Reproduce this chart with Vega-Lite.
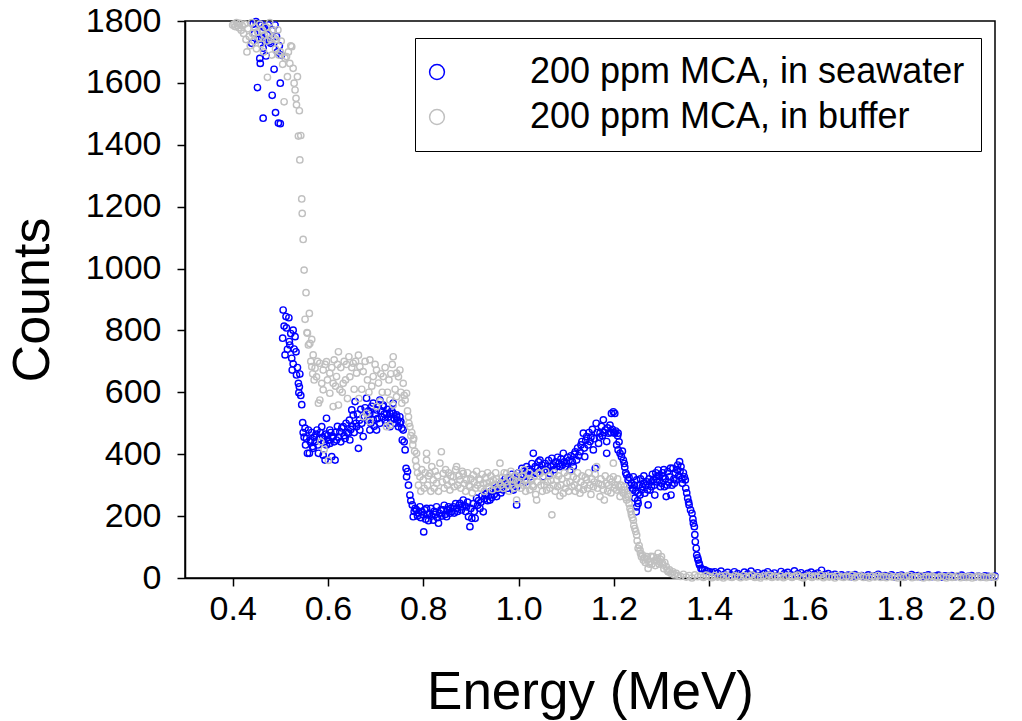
{
"$schema":"https://vega.github.io/schema/vega-lite/v6.json",
"width":810,"height":557,
"autosize":"none",
"padding":{"left":185,"top":21,"right":27,"bottom":143},
"background":"white",
"config":{"view":{"stroke":"black","strokeWidth":1.5},"font":"Liberation Sans"},
"datasets":{
"sea":[
{"e":0.440,"c":1728},{"e":0.443,"c":1790},{"e":0.446,"c":1760},{"e":0.449,"c":1798},{"e":0.452,"c":1585},{"e":0.454,"c":1740},{"e":0.457,"c":1787},{"e":0.457,"c":1679},{"e":0.458,"c":1663},{"e":0.460,"c":1790},{"e":0.461,"c":1744},{"e":0.463,"c":1765},{"e":0.464,"c":1712},{"e":0.464,"c":1486},{"e":0.466,"c":1780},{"e":0.468,"c":1735},{"e":0.470,"c":1687},{"e":0.473,"c":1755},{"e":0.475,"c":1787},{"e":0.477,"c":1733},{"e":0.480,"c":1728},{"e":0.483,"c":1560},{"e":0.485,"c":1770},{"e":0.487,"c":1644},{"e":0.489,"c":1787},{"e":0.490,"c":1504},{"e":0.492,"c":1750},{"e":0.494,"c":1700},{"e":0.496,"c":1470},{"e":0.498,"c":1720},{"e":0.500,"c":1468},{"e":0.500,"c":1599},{"e":0.502,"c":1690},
{"e":0.505,"c":775},{"e":0.506,"c":866},{"e":0.508,"c":814},{"e":0.510,"c":721},{"e":0.512,"c":845},{"e":0.513,"c":808},{"e":0.515,"c":739},{"e":0.518,"c":841},{"e":0.519,"c":764},{"e":0.520,"c":753},{"e":0.522,"c":790},{"e":0.524,"c":710},{"e":0.525,"c":672},{"e":0.527,"c":801},{"e":0.527,"c":692},{"e":0.529,"c":740},{"e":0.531,"c":780},{"e":0.533,"c":731},{"e":0.534,"c":656},{"e":0.536,"c":680},{"e":0.538,"c":629},{"e":0.539,"c":599},{"e":0.540,"c":618},{"e":0.541,"c":659},{"e":0.543,"c":590},{"e":0.545,"c":560},{"e":0.547,"c":502},{"e":0.548,"c":470},{"e":0.550,"c":455},{"e":0.552,"c":484},{"e":0.553,"c":430},{"e":0.555,"c":451},{"e":0.557,"c":403},{"e":0.559,"c":478},{"e":0.561,"c":403},{"e":0.563,"c":440},{"e":0.564,"c":446},{"e":0.566,"c":470},{"e":0.568,"c":425},{"e":0.569,"c":419},{"e":0.571,"c":455},{"e":0.573,"c":440},{"e":0.575,"c":465},{"e":0.577,"c":478},{"e":0.579,"c":430},{"e":0.580,"c":403},{"e":0.582,"c":450},{"e":0.584,"c":470},{"e":0.587,"c":489},{"e":0.589,"c":455},{"e":0.590,"c":397},{"e":0.592,"c":440},{"e":0.594,"c":381},{"e":0.595,"c":465},{"e":0.597,"c":516},{"e":0.597,"c":430},{"e":0.599,"c":460},{"e":0.601,"c":445},{"e":0.604,"c":478},{"e":0.604,"c":435},{"e":0.606,"c":470},{"e":0.608,"c":392},{"e":0.609,"c":455},{"e":0.611,"c":457},{"e":0.613,"c":440},{"e":0.615,"c":381},{"e":0.616,"c":470},{"e":0.618,"c":446},{"e":0.620,"c":490},{"e":0.622,"c":455},{"e":0.625,"c":473},{"e":0.627,"c":440},{"e":0.629,"c":485},{"e":0.632,"c":489},{"e":0.634,"c":460},{"e":0.636,"c":451},{"e":0.638,"c":500},{"e":0.640,"c":470},{"e":0.643,"c":468},{"e":0.645,"c":510},{"e":0.646,"c":446},{"e":0.648,"c":480},{"e":0.650,"c":543},{"e":0.652,"c":490},{"e":0.653,"c":527},{"e":0.655,"c":470},{"e":0.657,"c":570},{"e":0.659,"c":500},{"e":0.660,"c":489},{"e":0.662,"c":530},{"e":0.664,"c":419},{"e":0.666,"c":510},{"e":0.667,"c":478},{"e":0.669,"c":545},{"e":0.671,"c":500},{"e":0.674,"c":457},{"e":0.676,"c":520},{"e":0.678,"c":550},{"e":0.681,"c":581},{"e":0.683,"c":510},{"e":0.685,"c":540},{"e":0.688,"c":532},{"e":0.688,"c":478},{"e":0.690,"c":500},{"e":0.692,"c":555},{"e":0.695,"c":565},{"e":0.695,"c":511},{"e":0.697,"c":490},{"e":0.699,"c":530},{"e":0.702,"c":543},{"e":0.702,"c":478},{"e":0.704,"c":515},{"e":0.706,"c":560},{"e":0.709,"c":575},{"e":0.709,"c":500},{"e":0.711,"c":540},{"e":0.713,"c":520},{"e":0.716,"c":559},{"e":0.716,"c":554},{"e":0.718,"c":530},{"e":0.720,"c":510},{"e":0.723,"c":532},{"e":0.723,"c":500},{"e":0.725,"c":545},{"e":0.727,"c":520},{"e":0.730,"c":532},{"e":0.730,"c":489},{"e":0.732,"c":510},{"e":0.734,"c":540},{"e":0.737,"c":565},{"e":0.737,"c":532},{"e":0.739,"c":515},{"e":0.741,"c":500},{"e":0.744,"c":527},{"e":0.744,"c":521},{"e":0.746,"c":510},{"e":0.748,"c":489},{"e":0.751,"c":521},{"e":0.751,"c":500},{"e":0.753,"c":505},{"e":0.755,"c":484},{"e":0.756,"c":446},{"e":0.758,"c":478},{"e":0.760,"c":440},{"e":0.762,"c":414},{"e":0.764,"c":354},{"e":0.765,"c":327},{"e":0.767,"c":344},{"e":0.769,"c":300},{"e":0.772,"c":268},{"e":0.774,"c":250},{"e":0.777,"c":236},{"e":0.779,"c":198},{"e":0.781,"c":215},{"e":0.783,"c":225},{"e":0.786,"c":220},{"e":0.788,"c":200},{"e":0.790,"c":210},{"e":0.793,"c":230},{"e":0.795,"c":195},{"e":0.797,"c":215},{"e":0.800,"c":204},{"e":0.801,"c":149},{"e":0.803,"c":220},{"e":0.805,"c":190},{"e":0.807,"c":225},{"e":0.809,"c":205},{"e":0.811,"c":185},{"e":0.814,"c":209},{"e":0.816,"c":225},{"e":0.818,"c":200},{"e":0.821,"c":187},{"e":0.823,"c":215},{"e":0.825,"c":205},{"e":0.828,"c":230},{"e":0.830,"c":195},{"e":0.832,"c":177},{"e":0.834,"c":209},{"e":0.837,"c":220},{"e":0.839,"c":200},{"e":0.842,"c":220},{"e":0.844,"c":235},{"e":0.846,"c":205},{"e":0.849,"c":198},{"e":0.851,"c":220},{"e":0.853,"c":230},{"e":0.856,"c":209},{"e":0.858,"c":225},{"e":0.860,"c":215},{"e":0.863,"c":230},{"e":0.865,"c":210},{"e":0.868,"c":240},{"e":0.870,"c":225},{"e":0.872,"c":215},{"e":0.875,"c":235},{"e":0.877,"c":241},{"e":0.880,"c":220},{"e":0.882,"c":230},{"e":0.884,"c":252},{"e":0.886,"c":235},{"e":0.889,"c":215},{"e":0.891,"c":230},{"e":0.893,"c":245},{"e":0.895,"c":198},{"e":0.898,"c":166},{"e":0.900,"c":225},{"e":0.902,"c":193},{"e":0.905,"c":240},{"e":0.907,"c":215},{"e":0.909,"c":193},{"e":0.912,"c":258},{"e":0.914,"c":235},{"e":0.916,"c":250},{"e":0.919,"c":225},{"e":0.921,"c":245},{"e":0.923,"c":265},{"e":0.926,"c":214},{"e":0.928,"c":255},{"e":0.930,"c":270},{"e":0.933,"c":274},{"e":0.935,"c":250},{"e":0.937,"c":265},{"e":0.940,"c":252},{"e":0.942,"c":280},{"e":0.944,"c":260},{"e":0.947,"c":284},{"e":0.949,"c":270},{"e":0.951,"c":290},{"e":0.954,"c":263},{"e":0.956,"c":285},{"e":0.958,"c":300},{"e":0.961,"c":295},{"e":0.963,"c":275},{"e":0.965,"c":310},{"e":0.968,"c":284},{"e":0.970,"c":300},{"e":0.972,"c":320},{"e":0.975,"c":306},{"e":0.977,"c":290},{"e":0.979,"c":325},{"e":0.982,"c":317},{"e":0.984,"c":300},{"e":0.986,"c":335},{"e":0.989,"c":284},{"e":0.991,"c":310},{"e":0.993,"c":330},{"e":0.996,"c":295},{"e":0.996,"c":236},{"e":0.998,"c":320},{"e":1.000,"c":340},{"e":1.003,"c":317},{"e":1.005,"c":330},{"e":1.007,"c":354},{"e":1.010,"c":327},{"e":1.012,"c":345},{"e":1.014,"c":310},{"e":1.017,"c":360},{"e":1.019,"c":335},{"e":1.021,"c":350},{"e":1.024,"c":327},{"e":1.026,"c":345},{"e":1.028,"c":370},{"e":1.031,"c":403},{"e":1.033,"c":340},{"e":1.035,"c":360},{"e":1.038,"c":338},{"e":1.040,"c":355},{"e":1.042,"c":375},{"e":1.045,"c":381},{"e":1.047,"c":350},{"e":1.049,"c":365},{"e":1.052,"c":327},{"e":1.054,"c":345},{"e":1.056,"c":370},{"e":1.059,"c":349},{"e":1.061,"c":360},{"e":1.063,"c":380},{"e":1.066,"c":338},{"e":1.068,"c":360},{"e":1.070,"c":387},{"e":1.073,"c":365},{"e":1.075,"c":350},{"e":1.078,"c":375},{"e":1.080,"c":360},{"e":1.082,"c":390},{"e":1.085,"c":370},{"e":1.087,"c":360},{"e":1.089,"c":385},{"e":1.092,"c":365},{"e":1.094,"c":403},{"e":1.096,"c":375},{"e":1.099,"c":360},{"e":1.101,"c":371},{"e":1.103,"c":390},{"e":1.106,"c":380},{"e":1.108,"c":349},{"e":1.110,"c":395},{"e":1.113,"c":375},{"e":1.115,"c":360},{"e":1.117,"c":400},{"e":1.119,"c":408},{"e":1.122,"c":381},{"e":1.124,"c":420},{"e":1.126,"c":395},{"e":1.129,"c":408},{"e":1.131,"c":430},{"e":1.133,"c":441},{"e":1.136,"c":468},{"e":1.138,"c":420},{"e":1.139,"c":392},{"e":1.141,"c":445},{"e":1.143,"c":457},{"e":1.146,"c":430},{"e":1.148,"c":470},{"e":1.150,"c":441},{"e":1.152,"c":455},{"e":1.155,"c":480},{"e":1.157,"c":414},{"e":1.159,"c":450},{"e":1.161,"c":354},{"e":1.163,"c":500},{"e":1.165,"c":470},{"e":1.168,"c":435},{"e":1.170,"c":455},{"e":1.171,"c":468},{"e":1.174,"c":490},{"e":1.176,"c":460},{"e":1.178,"c":511},{"e":1.180,"c":470},{"e":1.182,"c":478},{"e":1.185,"c":441},{"e":1.185,"c":403},{"e":1.187,"c":485},{"e":1.189,"c":468},{"e":1.192,"c":494},{"e":1.194,"c":470},{"e":1.195,"c":532},{"e":1.197,"c":480},{"e":1.199,"c":537},{"e":1.200,"c":470},{"e":1.202,"c":532},{"e":1.202,"c":468},{"e":1.204,"c":475},{"e":1.206,"c":430},{"e":1.208,"c":460},{"e":1.209,"c":468},{"e":1.209,"c":414},{"e":1.211,"c":440},{"e":1.213,"c":403},{"e":1.216,"c":392},{"e":1.218,"c":410},{"e":1.220,"c":381},{"e":1.222,"c":370},{"e":1.223,"c":358},{"e":1.225,"c":340},{"e":1.227,"c":333},{"e":1.230,"c":317},{"e":1.232,"c":325},{"e":1.234,"c":300},{"e":1.237,"c":306},{"e":1.239,"c":290},{"e":1.240,"c":284},{"e":1.241,"c":327},{"e":1.243,"c":300},{"e":1.244,"c":258},{"e":1.246,"c":280},{"e":1.247,"c":214},{"e":1.248,"c":230},{"e":1.248,"c":317},{"e":1.250,"c":250},{"e":1.251,"c":241},{"e":1.251,"c":274},{"e":1.253,"c":300},{"e":1.255,"c":268},{"e":1.256,"c":320},{"e":1.258,"c":284},{"e":1.260,"c":295},{"e":1.262,"c":306},{"e":1.263,"c":330},{"e":1.265,"c":274},{"e":1.267,"c":300},{"e":1.269,"c":311},{"e":1.271,"c":285},{"e":1.272,"c":236},{"e":1.274,"c":320},{"e":1.276,"c":284},{"e":1.278,"c":310},{"e":1.279,"c":295},{"e":1.281,"c":335},{"e":1.283,"c":317},{"e":1.285,"c":300},{"e":1.286,"c":268},{"e":1.288,"c":340},{"e":1.289,"c":327},{"e":1.291,"c":310},{"e":1.293,"c":349},{"e":1.295,"c":330},{"e":1.296,"c":317},{"e":1.298,"c":295},{"e":1.300,"c":306},{"e":1.302,"c":340},{"e":1.303,"c":327},{"e":1.305,"c":350},{"e":1.306,"c":295},{"e":1.308,"c":320},{"e":1.310,"c":263},{"e":1.312,"c":300},{"e":1.313,"c":344},{"e":1.315,"c":310},{"e":1.317,"c":327},{"e":1.319,"c":355},{"e":1.320,"c":268},{"e":1.322,"c":300},{"e":1.324,"c":354},{"e":1.326,"c":320},{"e":1.327,"c":306},{"e":1.329,"c":340},{"e":1.331,"c":317},{"e":1.333,"c":350},{"e":1.334,"c":365},{"e":1.336,"c":330},{"e":1.338,"c":376},{"e":1.339,"c":345},{"e":1.341,"c":360},{"e":1.343,"c":320},{"e":1.344,"c":306},{"e":1.346,"c":340},{"e":1.348,"c":327},{"e":1.350,"c":317},{"e":1.351,"c":290},{"e":1.353,"c":275},{"e":1.355,"c":258},{"e":1.357,"c":245},{"e":1.358,"c":236},{"e":1.361,"c":220},{"e":1.364,"c":209},{"e":1.366,"c":190},{"e":1.367,"c":177},{"e":1.369,"c":166},{"e":1.370,"c":140},{"e":1.371,"c":117},{"e":1.373,"c":96},{"e":1.374,"c":74},{"e":1.376,"c":65},{"e":1.377,"c":58},{"e":1.379,"c":48},{"e":1.380,"c":42},{"e":1.383,"c":31},{"e":1.386,"c":28},{"e":1.391,"c":26},{"e":1.396,"c":22},{"e":1.401,"c":20},{"e":1.406,"c":18},{"e":1.412,"c":20},
{"e":1.418,"c":15},{"e":1.425,"c":22},{"e":1.432,"c":12},{"e":1.439,"c":18},{"e":1.446,"c":10},{"e":1.453,"c":20},{"e":1.460,"c":14},{"e":1.467,"c":8},{"e":1.474,"c":19},{"e":1.481,"c":13},{"e":1.488,"c":22},{"e":1.495,"c":11},{"e":1.502,"c":17},{"e":1.509,"c":9},{"e":1.516,"c":15},{"e":1.523,"c":20},{"e":1.530,"c":12},{"e":1.537,"c":16},{"e":1.544,"c":8},{"e":1.551,"c":21},{"e":1.558,"c":14},{"e":1.565,"c":18},{"e":1.572,"c":10},{"e":1.579,"c":23},{"e":1.586,"c":13},{"e":1.593,"c":17},{"e":1.600,"c":9},{"e":1.607,"c":15},{"e":1.614,"c":19},{"e":1.621,"c":12},{"e":1.628,"c":16},{"e":1.636,"c":25},{"e":1.643,"c":11},{"e":1.650,"c":14},{"e":1.657,"c":8},{"e":1.664,"c":12},{"e":1.671,"c":6},{"e":1.678,"c":10},{"e":1.685,"c":5},{"e":1.692,"c":9},{"e":1.699,"c":4},{"e":1.706,"c":11},{"e":1.713,"c":6},{"e":1.720,"c":8},{"e":1.727,"c":3},{"e":1.734,"c":10},{"e":1.741,"c":5},{"e":1.748,"c":7},{"e":1.755,"c":12},{"e":1.762,"c":4},{"e":1.769,"c":8},{"e":1.776,"c":6},{"e":1.783,"c":10},{"e":1.790,"c":3},{"e":1.797,"c":7},{"e":1.804,"c":9},{"e":1.811,"c":4},{"e":1.818,"c":6},{"e":1.825,"c":11},{"e":1.832,"c":5},{"e":1.839,"c":8},{"e":1.846,"c":3},{"e":1.853,"c":7},{"e":1.860,"c":10},{"e":1.867,"c":4},{"e":1.874,"c":6},{"e":1.881,"c":9},{"e":1.888,"c":3},{"e":1.895,"c":7},{"e":1.902,"c":5},{"e":1.909,"c":8},{"e":1.916,"c":4},{"e":1.923,"c":6},{"e":1.930,"c":9},{"e":1.937,"c":3},{"e":1.944,"c":5},{"e":1.951,"c":8},{"e":1.958,"c":4},{"e":1.965,"c":6},{"e":1.972,"c":3},{"e":1.979,"c":7},{"e":1.986,"c":5},{"e":1.993,"c":4},{"e":2.000,"c":6}
],
"buf":[
{"e":0.400,"c":1787},{"e":0.403,"c":1790},{"e":0.405,"c":1782},{"e":0.408,"c":1795},{"e":0.410,"c":1785},{"e":0.413,"c":1778},{"e":0.415,"c":1792},{"e":0.418,"c":1770},{"e":0.420,"c":1785},{"e":0.423,"c":1760},{"e":0.425,"c":1790},{"e":0.428,"c":1740},{"e":0.430,"c":1700},{"e":0.432,"c":1775},{"e":0.435,"c":1750},{"e":0.437,"c":1720},{"e":0.440,"c":1795},{"e":0.442,"c":1760},{"e":0.445,"c":1735},{"e":0.447,"c":1780},{"e":0.450,"c":1710},{"e":0.452,"c":1765},{"e":0.455,"c":1745},{"e":0.457,"c":1790},{"e":0.460,"c":1725},{"e":0.462,"c":1770},{"e":0.465,"c":1700},{"e":0.467,"c":1755},{"e":0.470,"c":1780},{"e":0.472,"c":1735},{"e":0.473,"c":1618},{"e":0.475,"c":1760},{"e":0.478,"c":1795},{"e":0.480,"c":1740},{"e":0.482,"c":1690},{"e":0.485,"c":1770},{"e":0.487,"c":1745},{"e":0.490,"c":1710},{"e":0.492,"c":1739},{"e":0.495,"c":1771},{"e":0.497,"c":1690},{"e":0.500,"c":1700},{"e":0.502,"c":1735},{"e":0.505,"c":1660},{"e":0.508,"c":1539},{"e":0.510,"c":1680},{"e":0.513,"c":1685},{"e":0.515,"c":1620},{"e":0.517,"c":1700},{"e":0.520,"c":1663},{"e":0.522,"c":1720},{"e":0.524,"c":1717},{"e":0.527,"c":1647},{"e":0.529,"c":1599},{"e":0.531,"c":1577},{"e":0.533,"c":1550},{"e":0.534,"c":1529},{"e":0.536,"c":1620},{"e":0.538,"c":1428},{"e":0.540,"c":1510},{"e":0.541,"c":1351},{"e":0.543,"c":1430},{"e":0.545,"c":1225},{"e":0.546,"c":1178},{"e":0.548,"c":1094},{"e":0.550,"c":995},{"e":0.552,"c":836},{"e":0.554,"c":922},{"e":0.556,"c":793},{"e":0.557,"c":791},{"e":0.559,"c":753},{"e":0.561,"c":855},{"e":0.562,"c":758},{"e":0.564,"c":700},
{"e":0.566,"c":771},{"e":0.566,"c":683},{"e":0.568,"c":660},{"e":0.569,"c":721},{"e":0.571,"c":640},{"e":0.573,"c":678},{"e":0.576,"c":650},{"e":0.578,"c":700},{"e":0.580,"c":565},{"e":0.583,"c":694},{"e":0.583,"c":575},{"e":0.585,"c":440},{"e":0.587,"c":629},{"e":0.590,"c":672},{"e":0.590,"c":608},{"e":0.592,"c":415},{"e":0.594,"c":690},{"e":0.597,"c":699},{"e":0.599,"c":640},{"e":0.601,"c":380},{"e":0.604,"c":662},{"e":0.604,"c":597},{"e":0.608,"c":680},{"e":0.611,"c":629},{"e":0.611,"c":554},{"e":0.613,"c":705},{"e":0.616,"c":620},{"e":0.618,"c":651},{"e":0.620,"c":690},{"e":0.622,"c":731},{"e":0.622,"c":559},{"e":0.625,"c":608},{"e":0.627,"c":680},{"e":0.630,"c":600},{"e":0.632,"c":629},{"e":0.634,"c":700},{"e":0.637,"c":640},{"e":0.639,"c":690},{"e":0.641,"c":580},{"e":0.644,"c":715},{"e":0.646,"c":650},{"e":0.650,"c":680},{"e":0.653,"c":694},{"e":0.655,"c":610},{"e":0.658,"c":700},{"e":0.660,"c":662},{"e":0.664,"c":720},{"e":0.665,"c":580},{"e":0.667,"c":683},{"e":0.671,"c":610},{"e":0.674,"c":667},{"e":0.674,"c":521},{"e":0.678,"c":700},{"e":0.681,"c":532},{"e":0.683,"c":640},{"e":0.686,"c":600},{"e":0.688,"c":705},{"e":0.688,"c":505},{"e":0.692,"c":620},{"e":0.695,"c":651},{"e":0.699,"c":690},{"e":0.702,"c":672},{"e":0.702,"c":554},{"e":0.706,"c":630},{"e":0.709,"c":570},{"e":0.711,"c":660},{"e":0.714,"c":600},{"e":0.716,"c":651},{"e":0.720,"c":680},{"e":0.723,"c":489},{"e":0.725,"c":600},{"e":0.728,"c":640},{"e":0.730,"c":575},{"e":0.730,"c":494},{"e":0.732,"c":660},{"e":0.735,"c":690},{"e":0.737,"c":715},{"e":0.737,"c":559},{"e":0.741,"c":610},{"e":0.744,"c":662},{"e":0.744,"c":586},{"e":0.748,"c":650},{"e":0.751,"c":672},{"e":0.753,"c":600},{"e":0.755,"c":565},{"e":0.758,"c":629},{"e":0.760,"c":590},{"e":0.762,"c":575},{"e":0.765,"c":597},
{"e":0.767,"c":540},{"e":0.769,"c":521},{"e":0.770,"c":500},{"e":0.772,"c":489},{"e":0.774,"c":460},{"e":0.776,"c":470},{"e":0.778,"c":430},{"e":0.779,"c":446},{"e":0.780,"c":451},{"e":0.782,"c":410},{"e":0.784,"c":380},{"e":0.786,"c":403},{"e":0.786,"c":360},{"e":0.788,"c":340},{"e":0.790,"c":300},{"e":0.793,"c":327},{"e":0.795,"c":280},{"e":0.797,"c":350},{"e":0.800,"c":317},{"e":0.802,"c":290},{"e":0.804,"c":340},{"e":0.807,"c":381},{"e":0.807,"c":403},{"e":0.809,"c":300},{"e":0.811,"c":330},{"e":0.814,"c":338},{"e":0.816,"c":280},{"e":0.818,"c":360},{"e":0.821,"c":317},{"e":0.823,"c":290},{"e":0.825,"c":345},{"e":0.828,"c":306},{"e":0.830,"c":330},{"e":0.832,"c":280},{"e":0.835,"c":371},{"e":0.838,"c":408},{"e":0.840,"c":310},{"e":0.842,"c":338},{"e":0.844,"c":290},{"e":0.847,"c":350},{"e":0.849,"c":317},{"e":0.851,"c":300},{"e":0.853,"c":340},{"e":0.856,"c":284},{"e":0.858,"c":330},{"e":0.860,"c":310},{"e":0.863,"c":327},{"e":0.865,"c":295},{"e":0.868,"c":350},{"e":0.870,"c":360},{"e":0.872,"c":300},{"e":0.875,"c":330},{"e":0.877,"c":317},{"e":0.879,"c":290},{"e":0.882,"c":345},{"e":0.884,"c":338},{"e":0.886,"c":305},{"e":0.889,"c":280},{"e":0.891,"c":317},{"e":0.893,"c":340},{"e":0.896,"c":300},{"e":0.898,"c":295},{"e":0.900,"c":320},{"e":0.903,"c":275},{"e":0.905,"c":333},{"e":0.907,"c":310},{"e":0.910,"c":290},{"e":0.912,"c":345},{"e":0.914,"c":300},{"e":0.917,"c":320},{"e":0.919,"c":317},{"e":0.921,"c":290},{"e":0.924,"c":335},{"e":0.926,"c":305},{"e":0.928,"c":280},{"e":0.931,"c":325},{"e":0.933,"c":306},{"e":0.935,"c":340},{"e":0.938,"c":295},{"e":0.940,"c":310},{"e":0.942,"c":330},{"e":0.945,"c":285},{"e":0.947,"c":317},{"e":0.949,"c":300},{"e":0.952,"c":340},{"e":0.954,"c":320},{"e":0.956,"c":290},{"e":0.959,"c":310},{"e":0.961,"c":371},{"e":0.963,"c":300},{"e":0.966,"c":325},{"e":0.968,"c":290},{"e":0.970,"c":340},{"e":0.973,"c":310},{"e":0.975,"c":338},{"e":0.977,"c":300},{"e":0.980,"c":280},{"e":0.982,"c":320},{"e":0.984,"c":345},{"e":0.987,"c":300},{"e":0.989,"c":317},{"e":0.991,"c":290},{"e":0.994,"c":330},{"e":0.996,"c":252},{"e":0.998,"c":310},{"e":1.001,"c":340},{"e":1.003,"c":306},{"e":1.005,"c":290},{"e":1.008,"c":330},{"e":1.010,"c":300},{"e":1.012,"c":350},{"e":1.015,"c":280},{"e":1.017,"c":317},{"e":1.019,"c":300},{"e":1.022,"c":340},{"e":1.024,"c":285},{"e":1.026,"c":320},{"e":1.029,"c":300},{"e":1.031,"c":295},{"e":1.033,"c":330},{"e":1.036,"c":270},{"e":1.038,"c":252},{"e":1.040,"c":310},{"e":1.043,"c":340},{"e":1.045,"c":338},{"e":1.047,"c":300},{"e":1.050,"c":280},{"e":1.052,"c":325},{"e":1.054,"c":300},{"e":1.057,"c":345},{"e":1.059,"c":284},{"e":1.061,"c":310},{"e":1.064,"c":330},{"e":1.066,"c":290},{"e":1.068,"c":315},{"e":1.070,"c":204},{"e":1.073,"c":300},{"e":1.075,"c":340},{"e":1.077,"c":280},{"e":1.080,"c":317},{"e":1.082,"c":295},{"e":1.084,"c":330},{"e":1.087,"c":265},{"e":1.089,"c":300},{"e":1.091,"c":320},{"e":1.094,"c":274},{"e":1.096,"c":340},{"e":1.098,"c":290},{"e":1.101,"c":306},{"e":1.103,"c":330},{"e":1.105,"c":280},{"e":1.108,"c":310},{"e":1.110,"c":345},{"e":1.112,"c":295},{"e":1.115,"c":327},{"e":1.117,"c":300},{"e":1.119,"c":280},{"e":1.122,"c":320},{"e":1.124,"c":340},{"e":1.126,"c":290},{"e":1.129,"c":274},{"e":1.131,"c":310},{"e":1.133,"c":330},{"e":1.136,"c":285},{"e":1.138,"c":300},{"e":1.140,"c":325},{"e":1.143,"c":317},{"e":1.145,"c":290},{"e":1.147,"c":340},{"e":1.150,"c":300},{"e":1.152,"c":270},{"e":1.154,"c":320},{"e":1.157,"c":295},{"e":1.159,"c":310},{"e":1.161,"c":335},{"e":1.164,"c":360},{"e":1.166,"c":290},{"e":1.168,"c":305},{"e":1.171,"c":263},{"e":1.173,"c":320},{"e":1.175,"c":300},{"e":1.178,"c":285},{"e":1.180,"c":252},{"e":1.182,"c":330},{"e":1.185,"c":306},{"e":1.187,"c":280},{"e":1.189,"c":300},{"e":1.192,"c":320},{"e":1.194,"c":275},{"e":1.196,"c":310},{"e":1.199,"c":327},{"e":1.199,"c":371},{"e":1.201,"c":290},{"e":1.203,"c":300},{"e":1.206,"c":284},{"e":1.208,"c":320},{"e":1.210,"c":295},{"e":1.213,"c":263},{"e":1.215,"c":300},{"e":1.217,"c":285},{"e":1.220,"c":274},{"e":1.222,"c":295},{"e":1.223,"c":284},{"e":1.225,"c":260},{"e":1.227,"c":252},{"e":1.229,"c":270},{"e":1.230,"c":263},{"e":1.232,"c":240},{"e":1.234,"c":225},{"e":1.236,"c":215},{"e":1.237,"c":204},{"e":1.239,"c":195},{"e":1.241,"c":187},{"e":1.242,"c":170},{"e":1.244,"c":160},{"e":1.246,"c":150},{"e":1.248,"c":139},{"e":1.249,"c":120},{"e":1.251,"c":96},{"e":1.253,"c":105},{"e":1.255,"c":90},{"e":1.256,"c":80},{"e":1.258,"c":69},{"e":1.260,"c":75},{"e":1.262,"c":58},{"e":1.264,"c":65},{"e":1.266,"c":50},{"e":1.269,"c":69},{"e":1.271,"c":60},{"e":1.272,"c":31},{"e":1.274,"c":45},{"e":1.276,"c":53},{"e":1.278,"c":70},{"e":1.280,"c":45},{"e":1.283,"c":69},{"e":1.285,"c":55},{"e":1.287,"c":40},{"e":1.289,"c":58},{"e":1.291,"c":65},{"e":1.293,"c":80},{"e":1.295,"c":45},{"e":1.296,"c":53},{"e":1.298,"c":60},{"e":1.300,"c":69},{"e":1.302,"c":48},{"e":1.303,"c":42},{"e":1.305,"c":30},{"e":1.307,"c":50},{"e":1.310,"c":37},{"e":1.312,"c":25},{"e":1.314,"c":20},{"e":1.317,"c":26},{"e":1.320,"c":15},{"e":1.324,"c":20},{"e":1.327,"c":10},{"e":1.331,"c":15},{"e":1.335,"c":8},
{"e":1.340,"c":5},{"e":1.346,"c":12},{"e":1.352,"c":3},{"e":1.358,"c":8},{"e":1.364,"c":0},{"e":1.370,"c":10},{"e":1.376,"c":4},{"e":1.382,"c":7},{"e":1.388,"c":2},{"e":1.394,"c":9},{"e":1.400,"c":5},{"e":1.406,"c":1},{"e":1.412,"c":8},{"e":1.418,"c":3},{"e":1.424,"c":6},{"e":1.430,"c":0},{"e":1.436,"c":9},{"e":1.442,"c":4},{"e":1.448,"c":2},{"e":1.454,"c":7},{"e":1.460,"c":5},{"e":1.466,"c":1},{"e":1.472,"c":8},{"e":1.478,"c":3},{"e":1.484,"c":6},{"e":1.490,"c":10},{"e":1.496,"c":2},{"e":1.502,"c":5},{"e":1.508,"c":0},{"e":1.514,"c":7},{"e":1.520,"c":4},{"e":1.526,"c":9},{"e":1.532,"c":2},{"e":1.538,"c":6},{"e":1.544,"c":3},{"e":1.550,"c":8},{"e":1.556,"c":1},{"e":1.562,"c":5},{"e":1.568,"c":7},{"e":1.574,"c":2},{"e":1.580,"c":6},{"e":1.586,"c":9},{"e":1.592,"c":3},{"e":1.598,"c":0},{"e":1.604,"c":5},{"e":1.610,"c":8},{"e":1.616,"c":2},{"e":1.622,"c":6},{"e":1.628,"c":4},{"e":1.634,"c":10},{"e":1.640,"c":1},{"e":1.646,"c":7},{"e":1.652,"c":3},{"e":1.658,"c":5},{"e":1.664,"c":0},{"e":1.670,"c":8},{"e":1.676,"c":4},{"e":1.682,"c":2},{"e":1.688,"c":6},{"e":1.694,"c":3},{"e":1.700,"c":9},{"e":1.706,"c":1},{"e":1.712,"c":5},{"e":1.718,"c":7},{"e":1.724,"c":2},{"e":1.730,"c":4},{"e":1.736,"c":0},{"e":1.742,"c":6},{"e":1.748,"c":3},{"e":1.754,"c":8},{"e":1.760,"c":2},{"e":1.766,"c":5},{"e":1.772,"c":1},{"e":1.778,"c":7},{"e":1.784,"c":3},{"e":1.790,"c":4},{"e":1.796,"c":0},{"e":1.802,"c":6},{"e":1.808,"c":2},{"e":1.814,"c":5},{"e":1.820,"c":8},{"e":1.826,"c":1},{"e":1.832,"c":4},{"e":1.838,"c":3},{"e":1.844,"c":7},{"e":1.850,"c":0},{"e":1.856,"c":5},{"e":1.862,"c":2},{"e":1.868,"c":6},{"e":1.874,"c":3},{"e":1.880,"c":1},{"e":1.886,"c":5},{"e":1.892,"c":4},{"e":1.898,"c":0},{"e":1.904,"c":6},{"e":1.910,"c":2},{"e":1.916,"c":3},{"e":1.922,"c":7},{"e":1.928,"c":1},{"e":1.934,"c":4},{"e":1.940,"c":2},{"e":1.946,"c":5},{"e":1.952,"c":0},{"e":1.958,"c":3},{"e":1.964,"c":6},{"e":1.970,"c":2},{"e":1.976,"c":4},{"e":1.982,"c":1},{"e":1.988,"c":3},{"e":1.994,"c":5},{"e":2.000,"c":2}
]},
"encoding":{
"x":{"field":"e","type":"quantitative","scale":{"domain":[0.3,2.0],"nice":false,"zero":false},
 "axis":{"title":"Energy (MeV)","values":[0.4,0.6,0.8,1.0,1.2,1.4,1.6,1.8,2.0],"format":".1f","grid":false,"tickSize":8,"tickColor":"black","tickWidth":1.5,"domainColor":"black","domainWidth":1.5,"labelFontSize":34,"labelColor":"black","labelPadding":6,"titleFontSize":53,"titleFontWeight":"normal","titleColor":"black","titlePadding":40}},
"y":{"field":"c","type":"quantitative","scale":{"domain":[0,1800],"nice":false},
 "axis":{"title":"Counts","values":[0,200,400,600,800,1000,1200,1400,1600,1800],"format":"d","grid":false,"tickSize":8,"tickColor":"black","tickWidth":1.5,"domainColor":"black","domainWidth":1.5,"labelFontSize":34,"labelColor":"black","labelPadding":16,"titleFontSize":52,"titleFontWeight":"normal","titleColor":"black","titlePadding":26}}
},
"layer":[
{"data":{"name":"sea"},"mark":{"type":"point","shape":"circle","filled":false,"size":40,"strokeWidth":1.4,"opacity":1},
 "encoding":{"color":{"datum":"200 ppm MCA, in seawater","scale":{"domain":["200 ppm MCA, in seawater","200 ppm MCA, in buffer"],"range":["#0000ff","#c0c0c0"]},
 "legend":{"orient":"none","legendX":230,"legendY":17,"title":null,"labelFontSize":36,"labelColor":"black","labelOffset":75,"labelLimit":0,"symbolType":"circle","symbolSize":220,"symbolStrokeWidth":1.5,"symbolOffset":-12,"padding":16,"rowPadding":9,"strokeColor":"black","fillColor":"white"}}}},
{"data":{"name":"buf"},"mark":{"type":"point","shape":"circle","filled":false,"size":40,"strokeWidth":1.4,"opacity":1},
 "encoding":{"color":{"datum":"200 ppm MCA, in buffer"}}}
]
}
